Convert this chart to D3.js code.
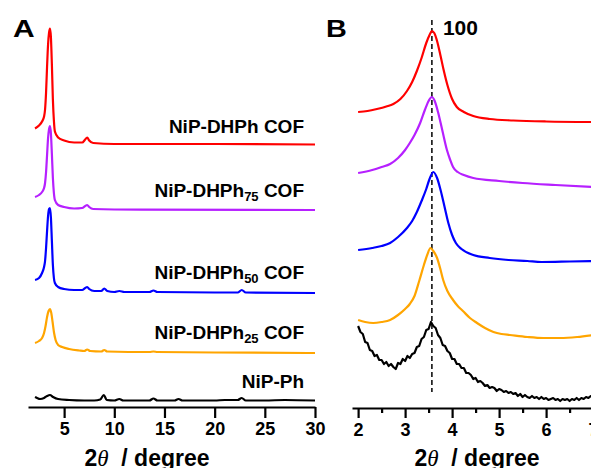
<!DOCTYPE html>
<html>
<head>
<meta charset="utf-8">
<script src="https://cdn.jsdelivr.net/npm/d3@7"></script>
<style>
  body { margin: 0; background: #fff; }
  svg { display: block; font-family: "Liberation Sans", Arial, sans-serif; font-weight: bold; }
</style>
</head>
<body>
<svg id="chart" width="591" height="468"></svg>
<script>
// ---- data: [2theta, intensity a.u.] ----
const seriesNames = ["NiP-DHPh COF", "NiP-DHPh75 COF", "NiP-DHPh50 COF", "NiP-DHPh25 COF", "NiP-Ph"];
const colors = ["#ff0000", "#b620ff", "#0000ff", "#ffa500", "#000000"];

// panel A, wide angle
const aDHPh = [[2.1,16],[2.5,19],[2.8,23],[3.0,28],[3.1,35],[3.2,52],[3.3,78],[3.4,100],[3.5,112],[3.59,116],
  [3.68,108],[3.78,80],[3.88,45],[3.98,24],[4.08,13],[4.4,7],[5,4],[6,2],[6.8,2],[7.1,5],[7.3,7],[7.5,4],[7.9,1.5],
  [10,0.5],[20,0.5],[30,0]];
const aDHPh75 = [[2.1,13],[2.5,15],[2.8,18],[3.0,22],[3.1,27],[3.2,38],[3.3,55],[3.4,72],[3.5,81],[3.59,84],
  [3.68,77],[3.78,56],[3.88,32],[3.98,17],[4.08,10],[4.4,5],[5,3],[6,1.5],[6.8,2],[7.1,4],[7.3,5],[7.5,3],[7.9,1],
  [10,0.5],[30,0]];
const aDHPh50 = [[2.1,13],[2.5,15],[2.8,20],[3.0,26],[3.1,32],[3.2,45],[3.3,62],[3.4,77],[3.5,84],[3.59,85],
  [3.68,76],[3.78,52],[3.88,28],[3.98,15],[4.08,10],[4.4,6],[5,4],[6,3],[6.8,3],[7.1,5],[7.3,6],[7.5,4],[8,2],
  [8.7,2],[9,4.5],[9.3,2],[10,1],[10.5,2],[11,1],[13.5,1],[13.9,2.5],[14.3,1],[20,0.5],[22.3,0.5],[22.7,3],
  [23.1,0.5],[30,0]];
const aDHPh25 = [[2.1,10],[2.5,12],[2.8,15],[3.0,20],[3.15,27],[3.3,36],[3.45,42],[3.59,44],[3.72,40],[3.85,31],
  [4.0,20],[4.15,13],[4.4,8],[4.8,6],[5.5,4],[6.5,2.5],[7,2],[7.3,3.5],[7.6,2],[8.7,1.5],[9,3],[9.3,1.5],
  [13.5,1],[13.9,1.5],[14.3,1],[20,0.5],[30,0]];
const aPh = [[2.1,4],[2.3,3],[2.6,2],[3.0,3],[3.3,5],[3.59,6],[3.9,4],[4.4,2],[5.5,1],[7,0.5],[8,0.5],[8.6,1.5],
  [8.95,6],[9.25,1],[10,0.5],[10.5,2],[10.9,0.5],[13.5,0.5],[13.9,2.5],[14.3,0.5],[16,0.5],[16.4,2],[16.8,0.5],
  [20,0.5],[21,1],[22.3,1],[22.7,3],[23.1,0.5],[25,0.5],[27,1],[30,0.5]];

// panel B, low angle
const bDHPh = [[2.0,13],[2.2,14],[2.4,16],[2.6,18.5],[2.75,21],[2.9,26],[3.04,34],[3.15,43],[3.25,54],[3.35,67],
  [3.45,82],[3.52,90],[3.57,94],[3.62,92],[3.68,84],[3.75,70],[3.82,55],[3.9,40],[4.0,26],[4.1,18],[4.25,13],
  [4.45,9],[4.8,6],[5.3,4.5],[6,3.5],[7,3]];
const bDHPh75 = [[2.0,16],[2.3,19],[2.5,22],[2.68,25],[2.85,31],[3.0,39],[3.1,46],[3.2,54],[3.32,66],[3.42,79],
  [3.5,88],[3.57,92],[3.63,88],[3.7,77],[3.79,59],[3.89,39],[3.96,29],[4.02,22],[4.12,17],[4.25,14],[4.45,11],
  [5,8],[5.5,6],[6.2,4],[7,2]];
const bDHPh50 = [[2.0,13],[2.3,15],[2.5,17],[2.68,20],[2.85,26],[3.04,35],[3.15,42],[3.25,51],[3.35,62],[3.45,74],
  [3.52,84],[3.6,91],[3.68,85],[3.76,72],[3.84,56],[3.92,40],[4.0,28],[4.08,20],[4.2,14],[4.45,8],[4.8,5],
  [5.2,3],[5.6,2],[5.9,1],[6.5,1.5],[7,2]];
const bDHPh25 = [[2.0,18],[2.15,16],[2.32,15],[2.5,16],[2.68,18],[2.85,23],[3.0,29],[3.1,34],[3.2,42],[3.3,57],
  [3.4,73],[3.47,83],[3.54,90],[3.6,87],[3.68,80],[3.75,69],[3.81,58],[3.9,47],[4.02,38],[4.12,32],[4.23,27],
  [4.38,20],[4.53,15],[4.7,10],[4.88,6],[5.05,4],[5.23,3],[5.6,1],[5.94,0],[6.3,0],[6.66,1],[7,3]];
const bPhStart = 2.0, bPhStep = 0.05;
const bPh = [74,68,66,58,57,50,49,44,45,40,40,36,38,34,36,33,31,37,36,41,39,44,42,46,47,53,54,61,63,70,
  71,78,74,72,65,62,55,54,49,47,41,41,36,36,32,32,27,27,25,21,22,18,19,17,14,15,12,13,12,9,
  11,10,8,9,7,8,6,7,4,6,3,5,3,2,4,2,3,1,3,1,2,0,1,2,0,1,-1,1,0,1,
  -1,1,0,2,0,2,1,3,2,4,3];

const aTicks = [5, 10, 15, 20, 25, 30];
const bTicks = [2, 3, 4, 5, 6, 7];
const bMinor = [2.5, 3.5, 4.5, 5.5, 6.5];
const peakPos = 3.57, peakLabel = "100";

// ---- layout ----
const svg = d3.select("#chart");
const lineW = 2.2;

const xA = d3.scaleLinear().domain([1.4, 30]).range([28, 315]);
const yA = d3.scaleLinear().domain([0, 400]).range([407, 7]);
const offA = [262.5, 197, 114, 54, 6];

const xB = d3.scaleLinear().domain([1.87, 7.2]).range([352, 602.5]);
const yB = d3.scaleLinear().domain([0, 400]).range([410, 10]);
const offB = [285, 221, 147, 72, 10];

const curvesA = [aDHPh, aDHPh75, aDHPh50, aDHPh25, aPh];
const bPhPairs = bPh.map((v, i) => [bPhStart + i * bPhStep, v]);
const curvesB = [bDHPh, bDHPh75, bDHPh50, bDHPh25, bPhPairs];

curvesA.forEach((d, i) => {
  const line = d3.line().curve(d3.curveMonotoneX)
    .x(p => xA(p[0])).y(p => yA(p[1] + offA[i]));
  svg.append("path").datum(d).attr("d", line)
    .attr("fill", "none").attr("stroke", colors[i]).attr("stroke-width", lineW)
    .attr("stroke-linejoin", "round");
});

svg.append("line")
  .attr("x1", xB(peakPos)).attr("x2", xB(peakPos))
  .attr("y1", 20).attr("y2", 392)
  .attr("stroke", "#000").attr("stroke-width", 1.5).attr("stroke-dasharray", "5,3");

curvesB.forEach((d, i) => {
  const line = d3.line().curve(i === 4 ? d3.curveLinear : d3.curveMonotoneX)
    .x(p => xB(p[0])).y(p => yB(p[1] + offB[i]));
  svg.append("path").datum(d).attr("d", line)
    .attr("fill", "none").attr("stroke", colors[i]).attr("stroke-width", lineW)
    .attr("stroke-linejoin", "round");
});

// axes
svg.append("g").attr("transform", "translate(0,407)")
  .call(d3.axisBottom(xA).tickValues(aTicks).tickSize(11).tickSizeOuter(0).tickPadding(4));
svg.append("g").attr("transform", "translate(0,408)")
  .call(d3.axisBottom(xB).tickValues(bTicks).tickFormat(d3.format("d"))
    .tickSize(10).tickSizeOuter(0).tickPadding(5));
svg.append("g").attr("transform", "translate(0,408)")
  .call(d3.axisBottom(xB).tickValues(bMinor).tickSize(5).tickFormat(""))
  .select(".domain").remove();

svg.selectAll(".domain").attr("stroke-width", 2.2);
svg.selectAll(".tick line").attr("stroke-width", 2.2);
svg.selectAll(".tick text").attr("font-size", 18).attr("font-weight", "bold")
  .attr("font-family", "Liberation Sans, Arial, sans-serif").attr("fill", "#000");

// axis titles
function axisTitle(cx) {
  const t = svg.append("text").attr("x", cx).attr("y", 466)
    .attr("text-anchor", "middle").attr("font-size", 23);
  t.append("tspan").text("2");
  t.append("tspan").attr("font-family", "Liberation Serif, serif").attr("font-style", "italic")
    .attr("font-weight", "normal").text("\u03b8");
  t.append("tspan").text("\u00a0\u00a0/\u00a0degree");
  return t;
}
axisTitle(147);
axisTitle(477);

// series labels in panel A
const labelBase = [133, 197, 279, 339, 388];
seriesNames.forEach((name, i) => {
  const m = name.match(/^(NiP-DHPh)(\d+)( COF)$/);
  const t = svg.append("text").attr("x", 304).attr("y", labelBase[i])
    .attr("text-anchor", "end").attr("font-size", 19);
  if (m) {
    t.append("tspan").text(m[1]);
    t.append("tspan").attr("font-size", 13).attr("dy", 4).text(m[2]);
    t.append("tspan").attr("dy", -4).text("\u00a0COF");
  } else {
    t.text(name);
  }
});

// peak label and panel letters
svg.append("text").attr("x", xB(peakPos) + 11).attr("y", 35).attr("font-size", 21).text(peakLabel);
svg.append("text").attr("x", 13).attr("y", 37).attr("font-size", 24)
  .attr("transform", "translate(13,37) scale(1.25,1) translate(-13,-37)").text("A");
svg.append("text").attr("x", 326).attr("y", 37).attr("font-size", 24)
  .attr("transform", "translate(326,37) scale(1.2,1) translate(-326,-37)").text("B");
</script>
</body>
</html>
